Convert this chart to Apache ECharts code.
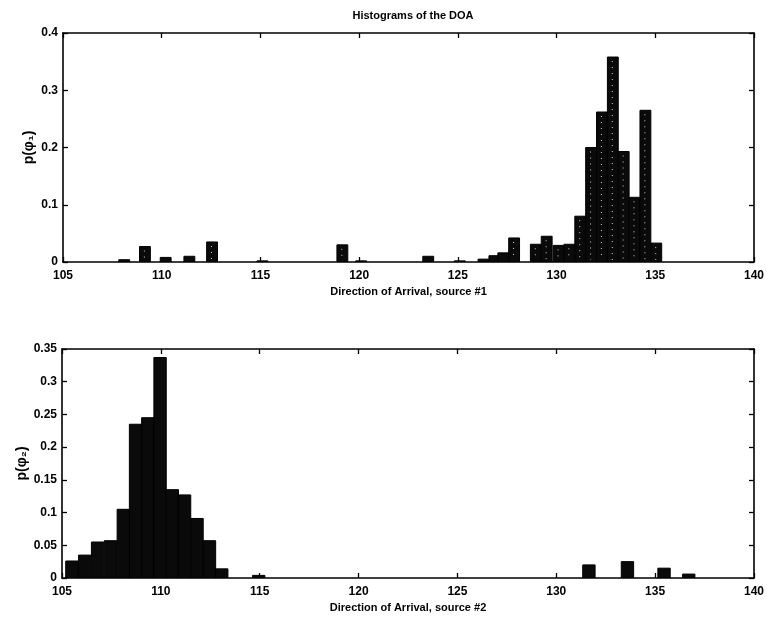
<!DOCTYPE html>
<html>
<head>
<meta charset="utf-8">
<script src="https://cdn.jsdelivr.net/npm/echarts@6/dist/echarts.min.js"></script>
<style>
html,body{margin:0;padding:0;background:#fff;}
#chart{width:767px;height:621px;}
</style>
</head>
<body>
<div id="chart"></div>
<script>
// ---- data ----
var titleText = 'Histograms of the DOA';
var xName1 = 'Direction of Arrival, source #1';
var xName2 = 'Direction of Arrival, source #2';
var yName1 = 'p(\u03c6\u2081)';
var yName2 = 'p(\u03c6\u2082)';
var xTicks = [105, 110, 115, 120, 125, 130, 135, 140];
var binWidth1 = 0.55;
var binWidth2 = 0.625;
var centers1 = [108.1, 109.15, 110.2, 111.4, 112.55, 115.1, 119.15, 120.1, 123.5, 125.1, 126.3, 126.85, 127.3, 127.85, 128.95, 129.5, 130.1, 130.65, 131.2, 131.75, 132.3, 132.85, 133.4, 133.95, 134.5, 135.05];
var values1  = [0.004, 0.027, 0.008, 0.01, 0.035, 0.002, 0.03, 0.002, 0.01, 0.002, 0.005, 0.011, 0.016, 0.042, 0.031, 0.045, 0.029, 0.031, 0.08, 0.2, 0.262, 0.358, 0.193, 0.113, 0.265, 0.033];
var centers2 = [105.5, 106.15, 106.8, 107.45, 108.1, 108.72, 109.34, 109.96, 110.58, 111.2, 111.83, 112.46, 113.08, 114.95, 131.65, 133.6, 135.45, 136.7];
var values2  = [0.026, 0.035, 0.055, 0.057, 0.105, 0.235, 0.245, 0.337, 0.135, 0.127, 0.091, 0.057, 0.014, 0.004, 0.02, 0.025, 0.015, 0.006];

var FONT = '"Liberation Sans", Arial, sans-serif';

function pairs(c, v) { return c.map(function (x, i) { return [x, v[i]]; }); }

function makeRender(width, dotted) {
  return function (params, api) {
    var x = api.value(0), y = api.value(1);
    var p0 = api.coord([x - width / 2, y]);
    var p1 = api.coord([x + width / 2, 0]);
    var rect = { x: p0[0], y: p0[1], width: p1[0] - p0[0], height: p1[1] - p0[1] };
    var children = [{
      type: 'rect', shape: rect,
      style: { fill: '#0a0a0a', stroke: '#000', lineWidth: 1 }
    }];
    if (dotted && rect.height > 12) {
      var cx = rect.x + rect.width * 0.45;
      children.push({
        type: 'line',
        shape: { x1: cx, y1: rect.y + 4, x2: cx, y2: rect.y + rect.height - 2 },
        style: { stroke: '#ffffff', lineWidth: 1, lineDash: [1, 5], opacity: 0.8 }
      });
    }
    return { type: 'group', children: children };
  };
}

function xAxisCfg(grid, pos, name, showLabels) {
  return {
    type: 'value', gridIndex: grid, position: pos, min: 105, max: 140, interval: 5,
    name: showLabels ? name : '', nameLocation: 'middle', nameGap: 24,
    nameTextStyle: { fontFamily: FONT, fontSize: 11, color: '#000', fontWeight: 'bold' },
    axisLine: { show: true, onZero: false, lineStyle: { color: '#000', width: 1.6 } },
    axisTick: { show: true, inside: true, length: 5, lineStyle: { color: '#000', width: 1.3 } },
    axisLabel: { show: showLabels, margin: 8, fontFamily: FONT, fontSize: 12, fontWeight: 'bold', color: '#000' },
    splitLine: { show: false }
  };
}
function yAxisCfg(grid, pos, max, interval, name, showLabels, gap) {
  return {
    type: 'value', gridIndex: grid, position: pos, min: 0, max: max, interval: interval,
    name: showLabels ? name : '', nameLocation: 'middle', nameGap: gap || 30, nameRotate: 90,
    nameMoveOverlap: false,
    nameTextStyle: { fontFamily: FONT, fontSize: 14, color: '#000', fontWeight: 'bold' },
    axisLine: { show: true, onZero: false, lineStyle: { color: '#000', width: 1.6 } },
    axisTick: { show: true, inside: true, length: 5, lineStyle: { color: '#000', width: 1.3 } },
    axisLabel: { show: showLabels, margin: 5, fontFamily: FONT, fontSize: 12, fontWeight: 'bold', color: '#000' },
    splitLine: { show: false }
  };
}

var chart = echarts.init(document.getElementById('chart'), null, { renderer: 'canvas' });
chart.setOption({
  backgroundColor: '#fff',
  animation: false,
  title: {
    text: titleText, left: 408, top: 5, textAlign: 'center',
    textStyle: { fontFamily: FONT, fontSize: 11, fontWeight: 'bold', color: '#000' }
  },
  grid: [
    { left: 63, top: 33, width: 691, height: 229 },
    { left: 62, top: 349, width: 692, height: 229 }
  ],
  xAxis: [
    xAxisCfg(0, 'bottom', xName1, true),
    xAxisCfg(0, 'top', '', false),
    xAxisCfg(1, 'bottom', xName2, true),
    xAxisCfg(1, 'top', '', false)
  ],
  yAxis: [
    yAxisCfg(0, 'left', 0.4, 0.1, yName1, true, 27),
    yAxisCfg(0, 'right', 0.4, 0.1, '', false),
    yAxisCfg(1, 'left', 0.35, 0.05, yName2, true, 33),
    yAxisCfg(1, 'right', 0.35, 0.05, '', false)
  ],
  series: [
    {
      type: 'custom', xAxisIndex: 0, yAxisIndex: 0,
      renderItem: makeRender(binWidth1, true),
      encode: { x: 0, y: 1 },
      data: pairs(centers1, values1), clip: true
    },
    {
      type: 'custom', xAxisIndex: 2, yAxisIndex: 2,
      renderItem: makeRender(binWidth2, false),
      encode: { x: 0, y: 1 },
      data: pairs(centers2, values2), clip: true
    }
  ]
});
</script>
</body>
</html>
